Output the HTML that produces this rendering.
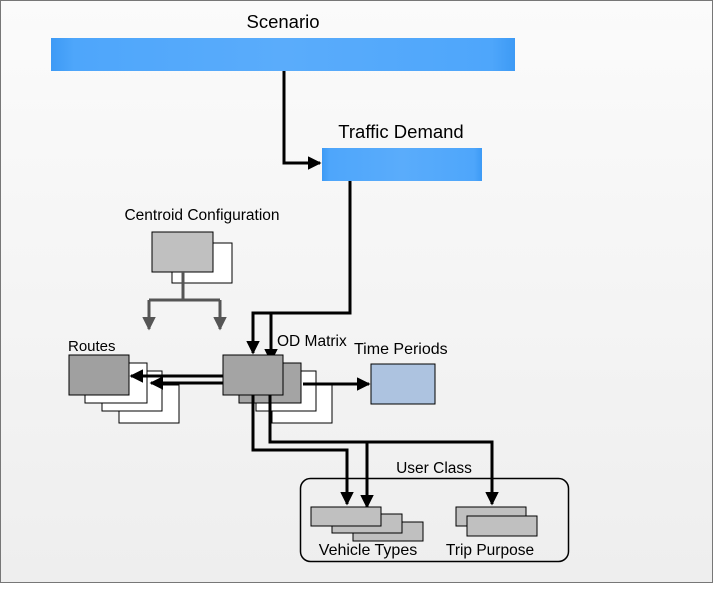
<!DOCTYPE html>
<html><head><style>
body{margin:0;width:714px;height:585px;overflow:hidden}
</style></head><body>
<svg width="714" height="585" viewBox="0 0 714 585" xmlns="http://www.w3.org/2000/svg" font-family="Liberation Sans, sans-serif">
<defs>
<linearGradient id="bg" x1="0" y1="0" x2="0" y2="1"><stop offset="0" stop-color="#fbfbfb"/><stop offset="1" stop-color="#eeeeee"/></linearGradient>
<linearGradient id="bl" x1="0" y1="0" x2="1" y2="0"><stop offset="0" stop-color="#3d9af5"/><stop offset="0.05" stop-color="#4ea6fb"/><stop offset="0.5" stop-color="#5aacfb"/><stop offset="0.95" stop-color="#4ea6fb"/><stop offset="1" stop-color="#3d9af5"/></linearGradient>
<marker id="a" markerWidth="4.5" markerHeight="4.5" refX="4" refY="2.25" orient="auto" markerUnits="strokeWidth"><path d="M0,0 L4.5,2.25 L0,4.5 z" fill="#000"/></marker>
<marker id="g" markerWidth="4.5" markerHeight="4.5" refX="4" refY="2.25" orient="auto" markerUnits="strokeWidth"><path d="M0,0 L4.5,2.25 L0,4.5 z" fill="#555"/></marker>
</defs>
<rect x="0.5" y="0.5" width="712" height="582" fill="url(#bg)" stroke="#777"/>
<text x="283" y="28" font-size="18.5" text-anchor="middle">Scenario</text>
<rect x="51" y="38" width="464" height="33" fill="url(#bl)"/>
<text x="401" y="138" font-size="18.5" text-anchor="middle">Traffic Demand</text>
<rect x="322" y="148" width="160" height="33" fill="url(#bl)"/>
<g fill="none" stroke="#000" stroke-width="3">
<path d="M284 71 V163 H320" marker-end="url(#a)"/>
<path d="M350 181 V313 H253 V353" marker-end="url(#a)"/>
<path d="M271 313 V361" marker-end="url(#a)"/>
</g>
<text x="202" y="220" font-size="15.5" text-anchor="middle">Centroid Configuration</text>
<rect x="172" y="243" width="60" height="40" fill="#fff" stroke="#000"/>
<rect x="152" y="232" width="61" height="40" fill="#c0c0c0" stroke="#000"/>
<g fill="none" stroke="#555" stroke-width="3">
<path d="M183 272 V300"/><path d="M149 300 H220"/>
<path d="M149 300 V329" marker-end="url(#g)"/><path d="M220 300 V329" marker-end="url(#g)"/>
</g>
<text x="68" y="351" font-size="15">Routes</text>
<rect x="119" y="385" width="60" height="38" fill="#fff" stroke="#000"/>
<rect x="102" y="371" width="60" height="40" fill="#fff" stroke="#000"/>
<rect x="85" y="363" width="62" height="40" fill="#fff" stroke="#000"/>
<rect x="69" y="355" width="60" height="40" fill="#a0a0a0" stroke="#000"/>
<text x="277" y="346" font-size="15.5">OD Matrix</text>
<rect x="272" y="385" width="60" height="38" fill="#fff" stroke="#000"/>
<rect x="256" y="371" width="60" height="40" fill="#fff" stroke="#000"/>
<rect x="239" y="363" width="62" height="40" fill="#a4a4a4" stroke="#000"/>
<rect x="223" y="355" width="60" height="40" fill="#a4a4a4" stroke="#000"/>
<text x="354" y="354" font-size="16">Time Periods</text>
<rect x="371" y="364" width="64" height="40" fill="#adc3e0" stroke="#000"/>
<g fill="none" stroke="#000" stroke-width="3">
<path d="M223 376 H131" marker-end="url(#a)"/>
<path d="M223 383 H151" marker-end="url(#a)"/>
<path d="M303 384 H369" marker-end="url(#a)"/>
<path d="M253 395 V450 H347 V504" marker-end="url(#a)"/>
<path d="M270 395 V442 H492 V504" marker-end="url(#a)"/>
<path d="M367 442 V507" marker-end="url(#a)"/>
</g>
<rect x="300.5" y="478.5" width="268" height="83" rx="10" fill="none" stroke="#000" stroke-width="1.5"/>
<text x="434" y="473" font-size="15.5" text-anchor="middle">User Class</text>
<rect x="353" y="522" width="70" height="19" fill="#c0c0c0" stroke="#000"/>
<rect x="332" y="514" width="70" height="19" fill="#c0c0c0" stroke="#000"/>
<rect x="311" y="507" width="70" height="19" fill="#c0c0c0" stroke="#000"/>
<rect x="456" y="507" width="70" height="19" fill="#c0c0c0" stroke="#000"/>
<rect x="467" y="516" width="70" height="20" fill="#c0c0c0" stroke="#000"/>
<text x="368" y="555" font-size="16" text-anchor="middle">Vehicle Types</text>
<text x="490" y="555" font-size="15.5" text-anchor="middle">Trip Purpose</text>
</svg>
</body></html>
